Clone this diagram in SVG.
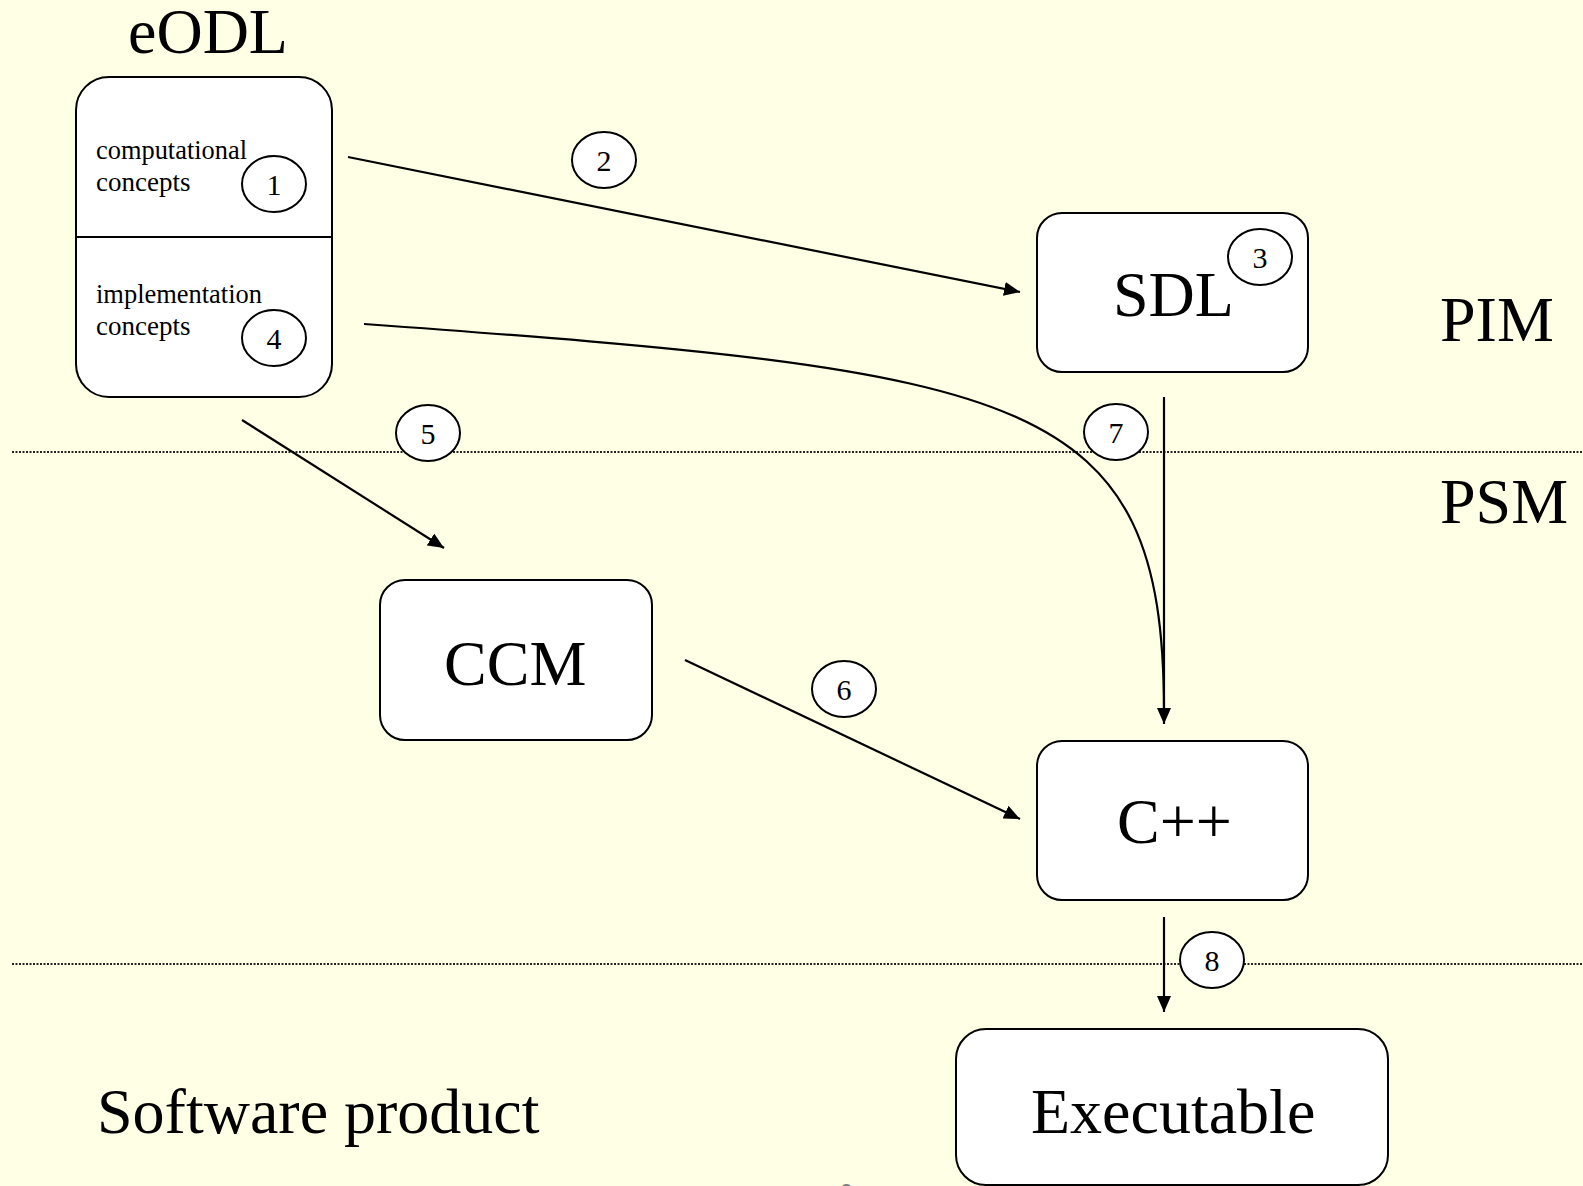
<svg xmlns="http://www.w3.org/2000/svg" width="1583" height="1186" viewBox="0 0 1583 1186">
<style>
.box{fill:#ffffff;stroke:#000;stroke-width:2}
.big{font-family:"Liberation Serif","Times New Roman",serif;font-size:64px;fill:#000}
.small{font-family:"Liberation Serif","Times New Roman",serif;font-size:27px;fill:#000}
.num{font-family:"Liberation Serif","Times New Roman",serif;font-size:30px;fill:#000;text-anchor:middle}
.circ{fill:#ffffff;stroke:#000;stroke-width:2}
.conn{fill:none;stroke:#000;stroke-width:2.2}
.dot{fill:none;stroke:#222;stroke-width:2;stroke-dasharray:2 1.5}
</style>
<defs>
<marker id="arr" viewBox="0 0 16 14" refX="16" refY="7" markerWidth="16" markerHeight="14" markerUnits="userSpaceOnUse" orient="auto">
<path d="M0,0 L16,7 L0,14 Z" fill="#000"/>
</marker>
</defs>
<rect x="0" y="0" width="1583" height="1186" fill="#ffffe5"/>

<g id="layers">
<line class="dot" x1="12" y1="452" x2="1583" y2="452"/>
<line class="dot" x1="12" y1="964" x2="1583" y2="964"/>
<text class="big" x="1440" y="341">PIM</text>
<text class="big" x="1440" y="523">PSM</text>
<text class="big" x="97" y="1133">Software product</text>
</g>

<g id="eODL">
<text class="big" x="128" y="53" font-size="63">eODL</text>
<rect class="box" x="76" y="77" width="256" height="320" rx="33" ry="33"/>
<line x1="76" y1="237" x2="332" y2="237" stroke="#000" stroke-width="2"/>
<text class="small" x="96" y="159" textLength="151" lengthAdjust="spacingAndGlyphs">computational</text>
<text class="small" x="96" y="191">concepts</text>
<text class="small" x="96" y="303" textLength="166" lengthAdjust="spacingAndGlyphs">implementation</text>
<text class="small" x="96" y="335">concepts</text>
</g>

<g id="SDL">
<rect class="box" x="1037" y="213" width="271" height="159" rx="25" ry="25"/>
<text class="big" x="1113" y="316">SDL</text>
</g>

<g id="CCM">
<rect class="box" x="380" y="580" width="272" height="160" rx="25" ry="25"/>
<text class="big" x="444" y="685">CCM</text>
</g>

<g id="Cpp">
<rect class="box" x="1037" y="741" width="271" height="159" rx="25" ry="25"/>
<text class="big" x="1117" y="843">C++</text>
</g>

<g id="Executable">
<rect class="box" x="956" y="1029" width="432" height="156" rx="30" ry="30"/>
<text class="big" x="1031" y="1133">Executable</text>
</g>

<g id="connectors">
<line class="conn" x1="348" y1="157" x2="1020" y2="292" marker-end="url(#arr)"/>
<path class="conn" d="M364,324 C1030,372 1164,392 1164,712"/>
<line class="conn" x1="1164" y1="397" x2="1164" y2="724" marker-end="url(#arr)"/>
<line class="conn" x1="242" y1="420" x2="444" y2="548" marker-end="url(#arr)"/>
<line class="conn" x1="685" y1="660" x2="1020" y2="819" marker-end="url(#arr)"/>
<line class="conn" x1="1164" y1="917" x2="1164" y2="1012" marker-end="url(#arr)"/>
</g>

<g id="labels">
<ellipse class="circ" cx="274" cy="184" rx="32" ry="28"/>
<text class="num" x="274" y="195">1</text>
<ellipse class="circ" cx="604" cy="160" rx="32" ry="28"/>
<text class="num" x="604" y="171">2</text>
<ellipse class="circ" cx="1260" cy="257" rx="32" ry="28"/>
<text class="num" x="1260" y="268">3</text>
<ellipse class="circ" cx="274" cy="338" rx="32" ry="28"/>
<text class="num" x="274" y="349">4</text>
<ellipse class="circ" cx="428" cy="433" rx="32" ry="28"/>
<text class="num" x="428" y="444">5</text>
<ellipse class="circ" cx="844" cy="689" rx="32" ry="28"/>
<text class="num" x="844" y="700">6</text>
<ellipse class="circ" cx="1116" cy="432" rx="32" ry="28"/>
<text class="num" x="1116" y="443">7</text>
<ellipse class="circ" cx="1212" cy="960" rx="32" ry="28"/>
<text class="num" x="1212" y="971">8</text>
</g>

<text x="846" y="1201" font-family="Liberation Sans, Arial, sans-serif" font-size="24" fill="#808080" text-anchor="middle">6</text>
</svg>
